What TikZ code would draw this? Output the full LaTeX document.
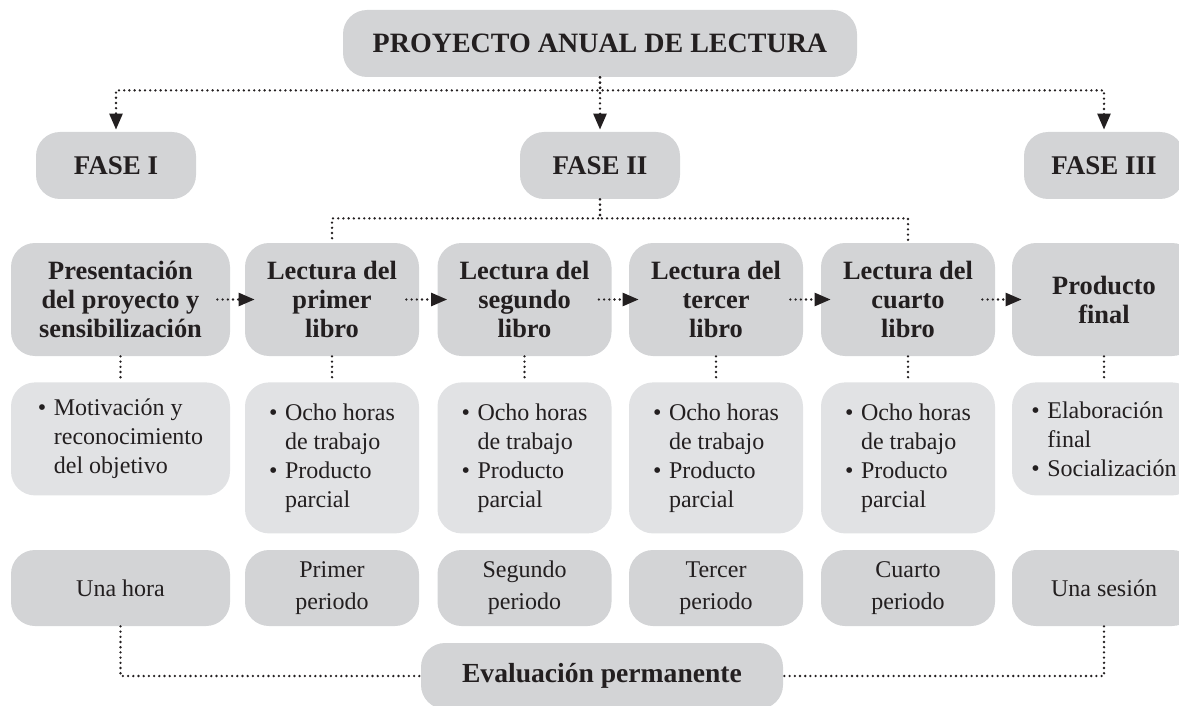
\documentclass[tikz,border=0pt]{standalone}
\usepackage{fontspec}
\setmainfont{Liberation Serif}
\usetikzlibrary{arrows.meta}
\definecolor{boxgray}{RGB}{211,212,214}
\definecolor{listgray}{RGB}{225,226,228}
\definecolor{inkblack}{RGB}{35,31,32}
\newcommand{\bitem}{\makebox[8pt][l]{\textbullet}}
\newcommand{\bgap}{\hspace*{8pt}}

\begin{document}
\begin{tikzpicture}[x=0.5pt,y=0.5pt]
        \tikzstyle{every node}+=[inner sep=0pt, text=inkblack]
        \tikzstyle{box}=[rectangle, rounded corners=12pt, fill=boxgray]
        \tikzstyle{fase}=[box, minimum width=80pt, minimum height=33.5pt, font=\bfseries\fontsize{13.5}{16}\selectfont]
        \tikzstyle{head}=[box, minimum height=56.5pt, align=center, font=\bfseries\fontsize{13.2}{14.5}\selectfont]
        \tikzstyle{lista}=[box, fill=listgray, anchor=north, align=left, font=\fontsize{12}{14.5}\selectfont]
        \tikzstyle{tiempo}=[box, minimum height=38pt, align=center, font=\fontsize{12}{16}\selectfont]
        \tikzstyle{puntos}=[inkblack, line width=1.3pt, line cap=round, dash pattern=on 0pt off 2.6pt]
        \tikzstyle{flecha}=[puntos, shorten >=1pt, -{Triangle[length=8pt,width=6.5pt]}]
        \useasboundingbox (0,0) rectangle (1179,-706);
        \node [box, minimum width=257pt, minimum height=33.5pt, font=\bfseries\fontsize{14}{17}\selectfont] (proyecto) at (600,-43.5) {PROYECTO ANUAL DE LECTURA};
        \node [fase] (fase1) at (116,-165.5) {FASE I};
        \node [fase] (fase2) at (600,-165.5) {FASE II};
        \node [fase] (fase3) at (1104,-165.5) {FASE III};
        \node [head, minimum width=109.5pt] (pres) at (120.5,-299.5) {Presentación\\del proyecto y\\sensibilización};
        \node [head, minimum width=87pt] (lec1) at (332,-299.5) {Lectura del\\primer\\libro};
        \node [head, minimum width=87pt] (lec2) at (524.5,-299.5) {Lectura del\\segundo\\libro};
        \node [head, minimum width=87pt] (lec3) at (716,-299.5) {Lectura del\\tercer\\libro};
        \node [head, minimum width=87pt] (lec4) at (908,-299.5) {Lectura del\\cuarto\\libro};
        \node [head, minimum width=92pt] (prod) at (1104,-299.5) {Producto\\final};
        \node [lista, minimum width=109.5pt, minimum height=56.5pt] (pres-l) at (120.5,-382) {\bitem Motivación y\\\bgap reconocimiento\\\bgap del objetivo};
        \node [lista, minimum width=87pt, minimum height=75.5pt] (lec1-l) at (332,-382) {\bitem Ocho horas\\\bgap de trabajo\\\bitem Producto\\\bgap parcial};
        \node [lista, minimum width=87pt, minimum height=75.5pt] (lec2-l) at (524.5,-382) {\bitem Ocho horas\\\bgap de trabajo\\\bitem Producto\\\bgap parcial};
        \node [lista, minimum width=87pt, minimum height=75.5pt] (lec3-l) at (716,-382) {\bitem Ocho horas\\\bgap de trabajo\\\bitem Producto\\\bgap parcial};
        \node [lista, minimum width=87pt, minimum height=75.5pt] (lec4-l) at (908,-382) {\bitem Ocho horas\\\bgap de trabajo\\\bitem Producto\\\bgap parcial};
        \node [lista, minimum width=92pt, minimum height=56.5pt] (prod-l) at (1104,-382) {\bitem Elaboración\\\bgap final\\\bitem Socialización};
        \node [tiempo, minimum width=109.5pt] (hora) at (120.5,-588) {Una hora};
        \node [tiempo, minimum width=87pt] (per1) at (332,-588) {Primer\\periodo};
        \node [tiempo, minimum width=87pt] (per2) at (524.5,-588) {Segundo\\periodo};
        \node [tiempo, minimum width=87pt] (per3) at (716,-588) {Tercer\\periodo};
        \node [tiempo, minimum width=87pt] (per4) at (908,-588) {Cuarto\\periodo};
        \node [tiempo, minimum width=92pt] (sesion) at (1104,-588) {Una sesión};
        \node [box, minimum width=181pt, minimum height=33pt, font=\bfseries\fontsize{13.8}{16}\selectfont] (eval) at (602,-676) {Evaluación permanente};
        \draw [flecha] (proyecto.south) -- (fase2.north);
        \draw [flecha] (proyecto.south) -- ++(0,-13) -| (fase1.north);
        \draw [flecha] (proyecto.south) -- ++(0,-13) -| (fase3.north);
        \draw [puntos] (fase2.south) -- ++(0,-19) -| (lec1.north);
        \draw [puntos] (fase2.south) -- ++(0,-19) -| (lec4.north);
        \draw [flecha] ([xshift=-6.5pt]pres.east) -- ([xshift=6pt]lec1.west);
        \draw [flecha] ([xshift=-6.5pt]lec1.east) -- ([xshift=6pt]lec2.west);
        \draw [flecha] ([xshift=-6.5pt]lec2.east) -- ([xshift=6pt]lec3.west);
        \draw [flecha] ([xshift=-6.5pt]lec3.east) -- ([xshift=6pt]lec4.west);
        \draw [flecha] ([xshift=-6.5pt]lec4.east) -- ([xshift=6pt]prod.west);
        \draw [puntos] (pres.south) -- (pres-l.north);
        \draw [puntos] (lec1.south) -- (lec1-l.north);
        \draw [puntos] (lec2.south) -- (lec2-l.north);
        \draw [puntos] (lec3.south) -- (lec3-l.north);
        \draw [puntos] (lec4.south) -- (lec4-l.north);
        \draw [puntos] (prod.south) -- (prod-l.north);
        \draw [puntos] (hora.south) |- (eval.west);
        \draw [puntos] (sesion.south) |- (eval.east);
\end{tikzpicture}
\end{document}
